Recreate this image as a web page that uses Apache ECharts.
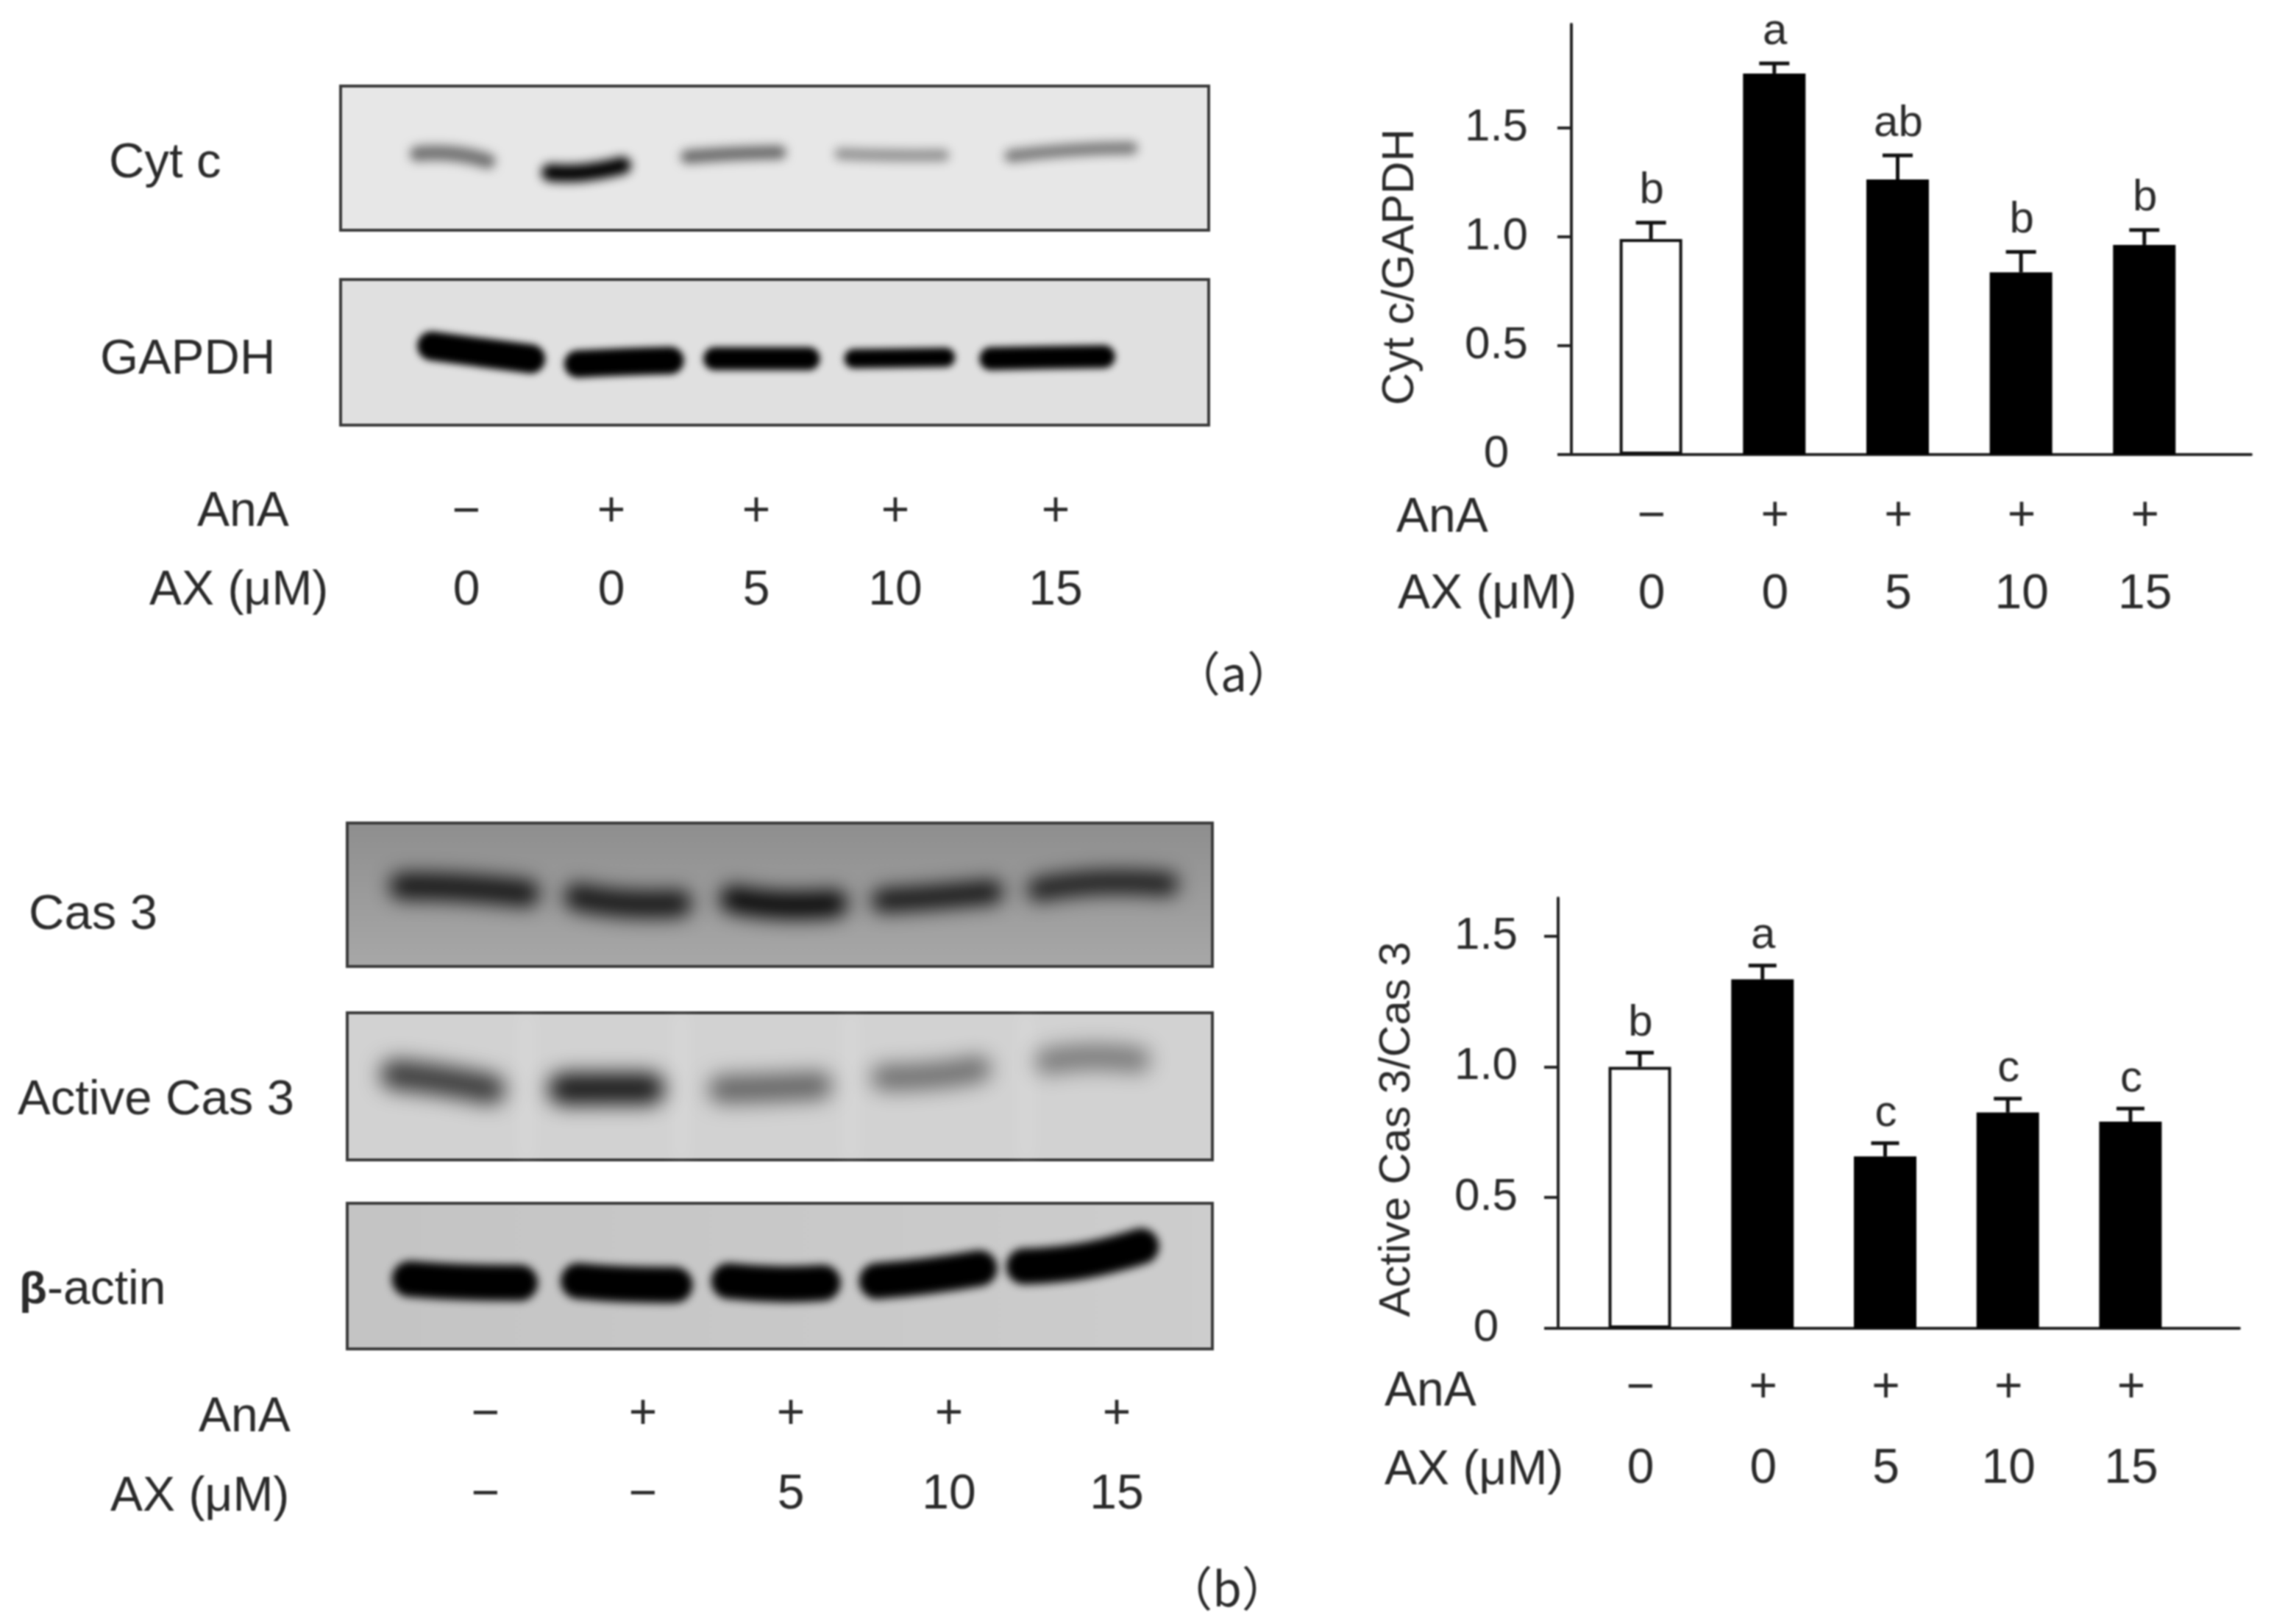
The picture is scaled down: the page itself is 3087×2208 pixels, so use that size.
<!DOCTYPE html>
<html><head><meta charset="utf-8">
<style>html,body{margin:0;padding:0;background:#fff}#c{width:3087px;height:2208px;filter:blur(1px)}</style>
<script src="https://cdn.jsdelivr.net/npm/echarts@6/dist/echarts.min.js"></script>
</head><body><div id="c"></div>
<script>
// ---------- data ----------
const treatments = ['Control','AnA','AnA+AX5','AnA+AX10','AnA+AX15'];
const cytcMean  = [0.99,1.75,1.263,0.837,0.963];
const cytcUpper = [1.065,1.796,1.374,0.931,1.031];
const cytcLetters = ['b','a','ab','b','b'];
const casMean  = [1.0,1.334,0.657,0.825,0.79];
const casUpper = [1.054,1.387,0.708,0.878,0.84];
const casLetters = ['b','a','c','c','c'];
const yTicksA = [0,0.5,1.0,1.5];
const yTicksB = [0,0.5,1.0,1.5];
const anaRowA = ['−','+','+','+','+'];
const axRowA  = ['0','0','5','10','15'];
const anaBlotB = ['−','+','+','+','+'];
const axBlotB  = ['−','−','5','10','15'];
// Blot bands: x1,y1,x2,y2,x3,y3 (percent of panel), thickness (percent of panel height), density
const bandsCytc = [
 [8.1,47,13,47,17.7,52,8.5,0.5],
 [23.3,60,28,60,33.3,55,9.5,1],
 [39.3,49,45,47,51.2,46,7.5,0.55],
 [57,47,63,48,70,48,6.5,0.38],
 [76.6,48.5,84,44.5,91.7,43,7,0.48]];
const bandsGapdh = [
 [9.1,45.6,16,50,23.3,54.5,16,1],
 [26,58,33,56.5,39.3,55.6,15,1],
 [42,54.4,48,54.4,55,54.4,12.6,1],
 [58.2,54.4,64,54,70.6,53.5,10.6,1],
 [73.8,54.4,81,53.6,89,53,12.6,1]];
const bandsCas = [
 [5.1,44,13,45,22,49,15,0.85],
 [25.3,51.5,32,56,39.6,56,15,0.85],
 [43.3,53,50,57,57.6,56,15,0.95],
 [60.8,54,68,51.5,75.6,48,13,0.88],
 [78.8,46.4,87,41.3,95.9,42.6,13,0.82]];
const bandsActive = [
 [20.7,0,20.7,50,20.7,100,3,-0.4],
 [38.6,0,38.6,50,38.6,100,3,-0.4],
 [58.2,0,58.2,50,58.2,100,3,-0.4],
 [78.5,0,78.5,50,78.5,100,3,-0.4],
 [4.1,42,11,46,18,52,15,0.72],
 [23.5,51.7,30,51.5,36.4,51.5,16,0.88],
 [42,52,49,51,55.8,49.4,14,0.52],
 [60.8,44,68,42.5,74.2,38,13,0.48],
 [79.7,33,86,30,92.6,32,13,0.42]];
const bandsActin = [
 [5.5,52,13,54,21.7,54.6,19,1],
 [25,53.4,32,55.5,39.6,56,19,1],
 [42.4,53.4,50,55.5,56.7,54.6,19,1],
 [59.5,53.4,67,50,74.8,44.6,19,1],
 [76.5,43.3,85,39.6,93.5,29.5,19,1]];

// ---------- layout ----------
const FONT = '"Liberation Sans", Arial, sans-serif';
const INK = '#2a2a2a';
const W = 3087, H = 2208;
const box = (l,t,r,b)=>({left:l,top:t,width:r-l,height:b-t});
const OFF = 5000;

const grids = [
  {...box(2136,33,3060,618)},
  {...box(2118,1221,3044,1806)},
  {...box(463,117,1643,313), show:true, borderColor:'#3a3a3a', borderWidth:4, backgroundColor:'#e7e7e7'},
  {...box(463,380,1643,578), show:true, borderColor:'#3a3a3a', borderWidth:4, backgroundColor:'#e0e0e0'},
  {...box(472,1119,1648,1314), show:true, borderColor:'#3a3a3a', borderWidth:4,
     backgroundColor:new echarts.graphic.LinearGradient(0,0,0,1,[{offset:0,color:'#8e8e8e'},{offset:1,color:'#a8a8a8'}])},
  {...box(472,1377,1648,1577), show:true, borderColor:'#3a3a3a', borderWidth:4, backgroundColor:'#d2d2d2'},
  {...box(472,1636,1648,1834), show:true, borderColor:'#3a3a3a', borderWidth:4,
     backgroundColor:new echarts.graphic.LinearGradient(0,0,1,0,[{offset:0,color:'#c4c4c4'},{offset:1,color:'#cdcdcd'}])}
];

const xBar = (g,min,max)=>({gridIndex:g,type:'value',min,max,
  axisLine:{show:true,onZero:false,lineStyle:{color:'#222',width:4}},
  axisTick:{show:false},axisLabel:{show:false},splitLine:{show:false}});
const yBar = (g,max,ticks,name,margin,gap,pad,size)=>({gridIndex:g,type:'value',min:0,max,
  name,nameLocation:'middle',nameGap:gap,nameRotate:90,
  nameTextStyle:{fontFamily:FONT,fontSize:size,color:INK,padding:pad},
  axisLine:{show:true,onZero:false,lineStyle:{color:'#222',width:4}},
  axisTick:{show:true,length:19,lineStyle:{color:'#222',width:4},customValues:ticks},
  axisLabel:{show:true,margin,align:'center',fontFamily:FONT,fontSize:62,color:INK,padding:[8,0,0,0],
    customValues:ticks,formatter:v=>v===0?'0':v.toFixed(1)},
  splitLine:{show:false}});

const xAxes=[xBar(0,-0.645,4.866),xBar(1,-0.666,4.888)];
const yAxes=[yBar(0,1.976,yTicksA,'Cyt c/GAPDH',102,201,[0,75,0,0],61.5),
             yBar(1,1.645,yTicksB,'Active Cas 3/Cas 3',98,189,[0,44,0,0],60)];
for(let g=2;g<7;g++){
  xAxes.push({gridIndex:g,type:'value',min:0,max:100,show:false});
  yAxes.push({gridIndex:g,type:'value',min:0,max:100,inverse:true,show:false});
}

const barSeries=(g,means)=>({type:'bar',xAxisIndex:g,yAxisIndex:g,barWidth:85,silent:true,animation:false,
  data:means.map((v,i)=>({value:[i,v],itemStyle:i===0
    ?{color:'#fff',borderColor:'#111',borderWidth:4}
    :{color:'#000',borderColor:'#000',borderWidth:4}}))});

const errSeries=(g,means,upper,letters,capW,rowA,rowB,rowAOff,rowBOff,letterGap)=>({
  type:'custom',xAxisIndex:g,yAxisIndex:g,silent:true,animation:false,z:1,
  data:means.map((m,i)=>[i,m,upper[i]]),
  encode:{x:0,y:[1,2]},
  renderItem(p,api){
    const i=api.value(0), a=api.coord([i,api.value(1)]), b=api.coord([i,api.value(2)]), base=api.coord([i,0]);
    const ln=(x1,y1,x2,y2)=>({type:'line',shape:{x1,y1,x2,y2},style:{stroke:'#111',lineWidth:5}});
    const tx=(t,x,y,size)=>({type:'text',style:{text:t,x,y,font:size+'px '+FONT,fill:INK,
      align:'center',textAlign:'center',verticalAlign:'middle',textVerticalAlign:'middle'}});
    return {type:'group',children:[
      ln(a[0],a[1],b[0],b[1]),
      ln(b[0]-capW/2,b[1],b[0]+capW/2,b[1]),
      tx(letters[i],b[0]+1,b[1]-letterGap,60),
      tx(rowA[i],base[0]+1,base[1]+rowAOff,66),
      tx(rowB[i],base[0]+1,base[1]+rowBOff,66)
    ]};
  }});

const blotSeries=(g,bands,blackBlur,softBlur,widen)=>({
  type:'custom',xAxisIndex:g,yAxisIndex:g,silent:true,animation:false,
  data:bands,encode:{x:[0,2,4],y:[1,3,5]},
  renderItem(p,api){
    const th=api.size([0,api.value(6)])[1], d=api.value(7);
    const lw=d<0?th:th*widen, inset=d<0?0:lw*0.42;
    const pts=[0,2,4].map(k=>{const c=api.coord([api.value(k),api.value(k+1)]);return [c[0]-OFF,c[1]];});
    pts[0][0]+=inset; pts[2][0]-=inset;
    const col=d<0?`rgba(255,255,255,${-d})`:`rgba(0,0,0,${d})`;
    return {type:'polyline',shape:{points:pts,smooth:0.5},style:{
      fill:'none',stroke:'#000',lineWidth:lw,lineCap:'round',lineJoin:'round',
      shadowColor:col,shadowBlur:d<0?24:(d>=1?blackBlur:softBlur),shadowOffsetX:OFF,shadowOffsetY:0}};
  }});

const text=(x,y,t,o={})=>({type:'text',silent:true,x:0,y:0,style:{text:t,x,y,
  font:(o.weight?o.weight+' ':'')+(o.size||66)+'px '+(o.family||FONT),fill:INK,
  textAlign:o.align||'left',textVerticalAlign:'middle',align:o.align||'left',verticalAlign:'middle'}});

// blot treatment rows: drawn at the lane positions of each membrane
const laneXA=[634,831,1028,1217,1435];
const laneXB=[660,874,1075,1290,1518];
const graphics=[
  text(148,223,'Cyt c',{size:67}),text(136,490,'GAPDH',{size:67}),
  text(268,697,'AnA'),text(203,804,'AX (μM)'),
  text(1898,705,'AnA'),text(1900,809,'AX (μM)'),
  text(39,1245,'Cas 3',{size:67}),text(24,1497,'Active Cas 3',{size:67}),
  text(26,1755,'β',{weight:'bold',size:62}),text(64,1755,'-actin',{size:66}),
  text(270,1928,'AnA'),text(150,2036,'AX (μM)'),
  text(1882,1893,'AnA'),text(1882,2000,'AX (μM)'),
  text(1677,916,'（a）',{align:'center',size:64,family:'"Noto Sans CJK SC"'}),
  text(1668,2160,'（b）',{align:'center',size:64,family:'"Noto Sans CJK SC"'}),
];
anaRowA.forEach((t,i)=>{graphics.push(text(laneXA[i],697,t,{align:'center'}));});
axRowA.forEach((t,i)=>{graphics.push(text(laneXA[i],804,t,{align:'center'}));});
anaBlotB.forEach((t,i)=>{graphics.push(text(laneXB[i],1924,t,{align:'center'}));});
axBlotB.forEach((t,i)=>{graphics.push(text(laneXB[i],2033,t,{align:'center'}));});

const chart=echarts.init(document.getElementById('c'),null,{renderer:'canvas',width:W,height:H});
chart.setOption({
  backgroundColor:'#fff',animation:false,
  textStyle:{fontFamily:FONT},
  grid:grids,xAxis:xAxes,yAxis:yAxes,
  graphic:{elements:graphics},
  series:[
    barSeries(0,cytcMean),
    errSeries(0,cytcMean,cytcUpper,cytcLetters,41,anaRowA,axRowA,85,191,43),
    barSeries(1,casMean),
    errSeries(1,casMean,casUpper,casLetters,38,anaRowA,axRowA,82,192,40),
    blotSeries(2,bandsCytc,14,14,1.25),blotSeries(3,bandsGapdh,10,14,1.25),blotSeries(4,bandsCas,16,26,1.25),
    blotSeries(5,bandsActive,16,28,1.35),blotSeries(6,bandsActin,12,20,1.3)
  ]
});
</script></body></html>
